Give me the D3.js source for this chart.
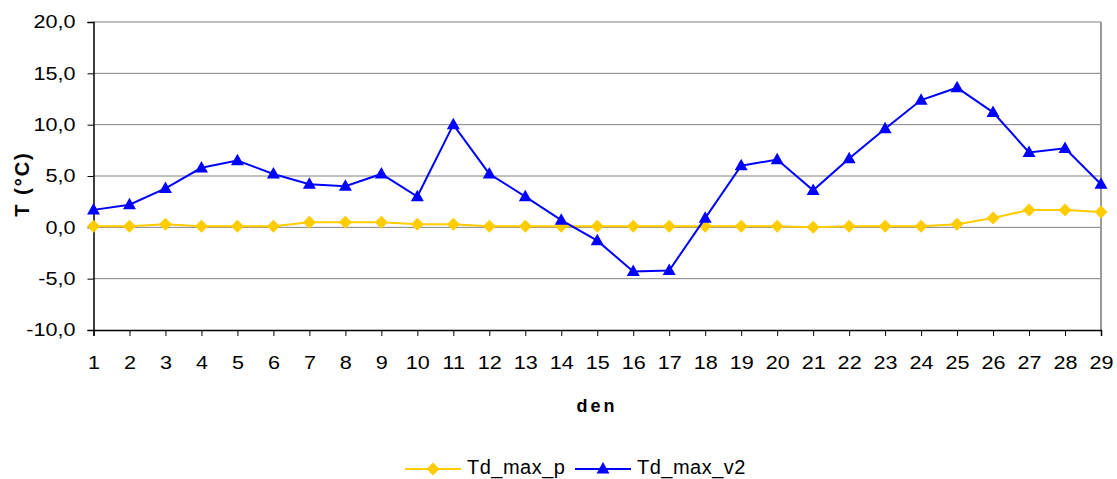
<!DOCTYPE html>
<html><head><meta charset="utf-8">
<script src="https://cdn.jsdelivr.net/npm/d3@7"></script>
<style>body{margin:0;background:#fff}svg{display:block}text{font-family:Arial,"Liberation Sans",sans-serif}</style>
</head><body><svg id="c" width="1117" height="479"></svg>
<script>
const days = d3.range(1, 30);
const tdMaxP = [0.1,0.1,0.3,0.1,0.1,0.1,0.5,0.5,0.5,0.3,0.3,0.1,0.1,0.1,0.1,0.1,0.1,0.1,0.1,0.1,0.0,0.1,0.1,0.1,0.3,0.9,1.7,1.7,1.5];
const tdMaxV2 = [1.7,2.2,3.8,5.8,6.5,5.2,4.2,4.0,5.2,3.0,10.0,5.2,3.0,0.7,-1.3,-4.3,-4.2,0.9,6.0,6.6,3.6,6.7,9.6,12.4,13.6,11.2,7.3,7.7,4.2];
const yTicks = [-10,-5,0,5,10,15,20];
const seriesNames = ["Td_max_p","Td_max_v2"];
const colors = ["#FFCC00","#0000FF"];

const svg = d3.select("#c");
const L=93.5, R=1101, T=22, B=330;
const x = d3.scaleLinear().domain([1,29]).range([L,R]);
const y = d3.scaleLinear().domain([-10,20]).range([B,T]);
const fmt = v => d3.format(".1f")(v).replace(".", ",").replace("\u2212","-");
const FF = "Arial,'Liberation Sans',sans-serif";
const SX = 1.2;

// gridlines
svg.append("g").selectAll("line").data(yTicks.filter(v=>v>-10)).join("line")
  .attr("x1",L).attr("x2",R).attr("y1",d=>y(d)).attr("y2",d=>y(d))
  .attr("stroke","#808080").attr("stroke-width",1);
// right border
svg.append("line").attr("x1",R).attr("x2",R).attr("y1",T).attr("y2",B).attr("stroke","#9a9a9a").attr("stroke-width",2);

// axes
const yAxis = svg.append("g").attr("transform",`translate(${L},0)`)
  .call(d3.axisLeft(y).tickValues(yTicks).tickFormat(fmt).tickSize(6).tickPadding(12));
yAxis.select(".domain").attr("stroke","#000").attr("stroke-width",1.5);
yAxis.selectAll(".tick line").attr("stroke","#000");
yAxis.selectAll("text").attr("font-size",18).attr("fill","#000").attr("font-family",FF)
  .attr("x",-18/SX).attr("transform",`scale(${SX},1)`);

const xAxis = svg.append("g").attr("transform",`translate(0,${B})`)
  .call(d3.axisBottom(x).tickValues(days).tickFormat(d3.format("d")).tickSize(6).tickPadding(20));
xAxis.select(".domain").attr("stroke","#000").attr("stroke-width",1.5);
xAxis.selectAll(".tick line").attr("stroke","#000");
xAxis.selectAll("text").attr("font-size",18).attr("fill","#000").attr("font-family",FF)
  .attr("transform",`scale(${SX},1)`);

// titles
svg.append("text").attr("x",597).attr("y",412).attr("text-anchor","middle")
  .attr("font-size",18).attr("letter-spacing","3px").attr("font-weight","bold").text("den");
svg.append("text").attr("transform",`translate(29,184) rotate(-90)`).attr("text-anchor","middle")
  .attr("font-size",20).attr("letter-spacing","2px").attr("font-weight","bold").text("T (°C)");

const line = d3.line().x((d,i)=>x(days[i])).y(d=>y(d));
const diamond = (r) => `M0,${-r}L${r},0L0,${r}L${-r},0Z`;
const tri = (w,h) => `M0,${-h*0.6}L${w/2},${h*0.4}L${-w/2},${h*0.4}Z`;
const shapes = [()=>diamond(6.5), ()=>tri(13,11.5)];

const data = [tdMaxP, tdMaxV2];
data.forEach((s,k)=>{
  svg.append("path").attr("d",line(s)).attr("fill","none").attr("stroke",colors[k]).attr("stroke-width",2);
  svg.append("g").selectAll("path").data(s).join("path")
    .attr("d",shapes[k]())
    .attr("transform",(d,i)=>`translate(${x(days[i])},${y(d)})`)
    .attr("fill",colors[k]);
});

// legend
const leg = [{x0:405,x1:461,tx:467},{x0:575,x1:631,tx:637}];
const ly = 469;
leg.forEach((p,k)=>{
  svg.append("line").attr("x1",p.x0).attr("x2",p.x1).attr("y1",ly).attr("y2",ly).attr("stroke",colors[k]).attr("stroke-width",2);
  svg.append("path").attr("d",shapes[k]()).attr("transform",`translate(${(p.x0+p.x1)/2},${ly})`).attr("fill",colors[k]);
  svg.append("text").attr("x",p.tx).attr("y",474).attr("font-size",20).attr("letter-spacing","0.5px").text(seriesNames[k]);
});
</script></body></html>
